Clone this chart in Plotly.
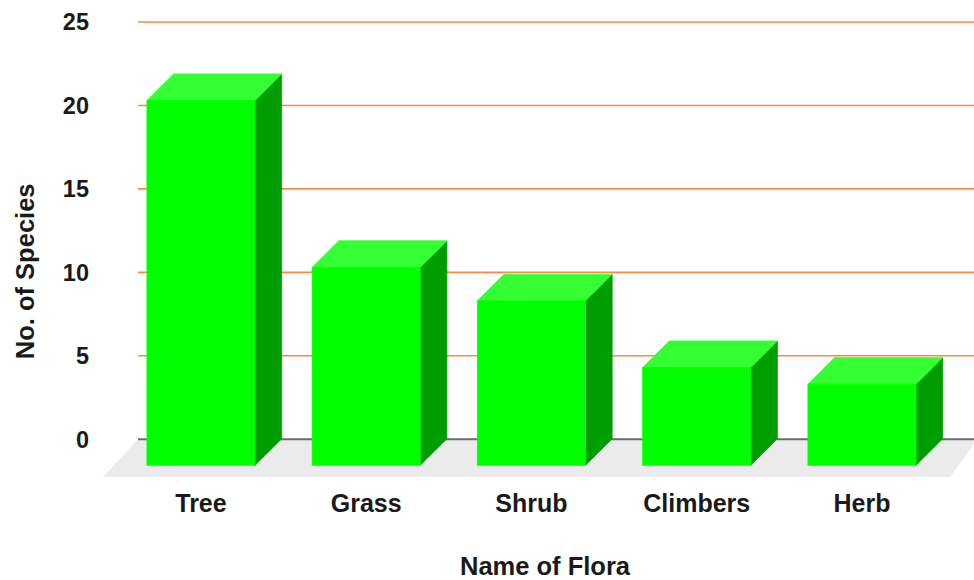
import plotly.graph_objects as go

# ---- data ----
categories = ["Tree", "Grass", "Shrub", "Climbers", "Herb"]
species = [20, 10, 8, 4, 3]
y_ticks = [0, 5, 10, 15, 20, 25]
x_title = "Name of Flora"
y_title = "No. of Species"

# ---- styling / geometry (axis units) ----
FRONT = "#00ff00"
TOP = "#33ff33"
SIDE = "#009d00"
GRID = "#fb8a3c"
ZERO = "#6b6b6b"
FLOOR_C = "#ebebeb"
TXT = "#1a1a1a"
FONT = "Liberation Sans, Arial, sans-serif"

BAR_W = 0.654
DX = 0.161
DY = 1.59
FRONT_BASE = -1.56
TOP_PAD = 0.3
X_RANGE = [-0.611, 4.678]
Y_RANGE = [-2.80, 25.60]
GRID_X0 = -0.381
FLOOR_X = [GRID_X0, 4.70, 4.532, -0.593]
FLOOR_Y = [0, 0, -2.26, -2.26]

fig = go.Figure()

# floor
fig.add_trace(go.Scatter(x=FLOOR_X + [FLOOR_X[0]], y=FLOOR_Y + [FLOOR_Y[0]], fill="toself",
                         fillcolor=FLOOR_C, mode="lines", line=dict(width=0, color=FLOOR_C),
                         hoverinfo="skip", showlegend=False))

# gridlines
gx, gy = [], []
for t in y_ticks[1:]:
    gx += [GRID_X0, X_RANGE[1], None]
    gy += [t, t, None]
fig.add_trace(go.Scatter(x=gx, y=gy, mode="lines", line=dict(color=GRID, width=1.6),
                         hoverinfo="skip", showlegend=False))
# zero line
fig.add_trace(go.Scatter(x=[GRID_X0, X_RANGE[1]], y=[y_ticks[0], y_ticks[0]], mode="lines",
                         line=dict(color=ZERO, width=2), hoverinfo="skip", showlegend=False))

# 3D bars
for i, (cat, v) in enumerate(zip(categories, species)):
    x0, x1 = i - BAR_W / 2, i + BAR_W / 2
    y0, y1 = FRONT_BASE, v + TOP_PAD
    # side face
    fig.add_trace(go.Scatter(x=[x1, x1 + DX, x1 + DX, x1, x1], y=[y0, y0 + DY, y1 + DY, y1, y0],
                             fill="toself", fillcolor=SIDE, mode="lines",
                             line=dict(width=0.8, color=SIDE), hoverinfo="skip", showlegend=False))
    # top face
    fig.add_trace(go.Scatter(x=[x0, x1, x1 + DX, x0 + DX, x0], y=[y1, y1, y1 + DY, y1 + DY, y1],
                             fill="toself", fillcolor=TOP, mode="lines",
                             line=dict(width=0.8, color=TOP), hoverinfo="skip", showlegend=False))
    # front face
    fig.add_trace(go.Scatter(x=[x0, x1, x1, x0, x0], y=[y0, y0, y1, y1, y0],
                             fill="toself", fillcolor=FRONT, mode="lines",
                             line=dict(width=0.8, color=FRONT), name=cat,
                             text=[f"{cat}: {v}"] * 5, hoverinfo="text", showlegend=False))

fig.update_layout(
    width=974, height=580,
    margin=dict(l=100, r=0, t=12, b=94),
    plot_bgcolor="white", paper_bgcolor="white",
    font=dict(family=FONT, size=24, color=TXT, weight="bold"),
    xaxis=dict(range=X_RANGE, showgrid=False, zeroline=False, showline=False,
               tickvals=list(range(len(categories))), ticktext=categories,
               ticks="", ticklabelstandoff=0,
               tickfont=dict(family=FONT, size=25, color=TXT, weight="bold")),
    yaxis=dict(range=Y_RANGE, showgrid=False, zeroline=False, showline=False,
               tickvals=y_ticks, ticks="", ticklabelstandoff=10,
               tickfont=dict(family=FONT, size=23.5, color=TXT, weight="bold")),
    annotations=[
        dict(text=x_title, xref="paper", yref="paper", x=(545 - 100) / 874, y=(486 - 566) / 474,
             xanchor="center", yanchor="middle", showarrow=False,
             font=dict(family=FONT, size=25.5, color=TXT, weight="bold")),
        dict(text=y_title, xref="paper", yref="paper", x=(24.5 - 100) / 874, y=(486 - 271.7) / 474,
             xanchor="center", yanchor="middle", showarrow=False, textangle=-90,
             font=dict(family=FONT, size=25.5, color=TXT, weight="bold")),
    ],
)

fig.write_html("out.html", config={"displayModeBar": False},
               post_script="document.body.style.margin='0';document.body.style.overflow='hidden';")
